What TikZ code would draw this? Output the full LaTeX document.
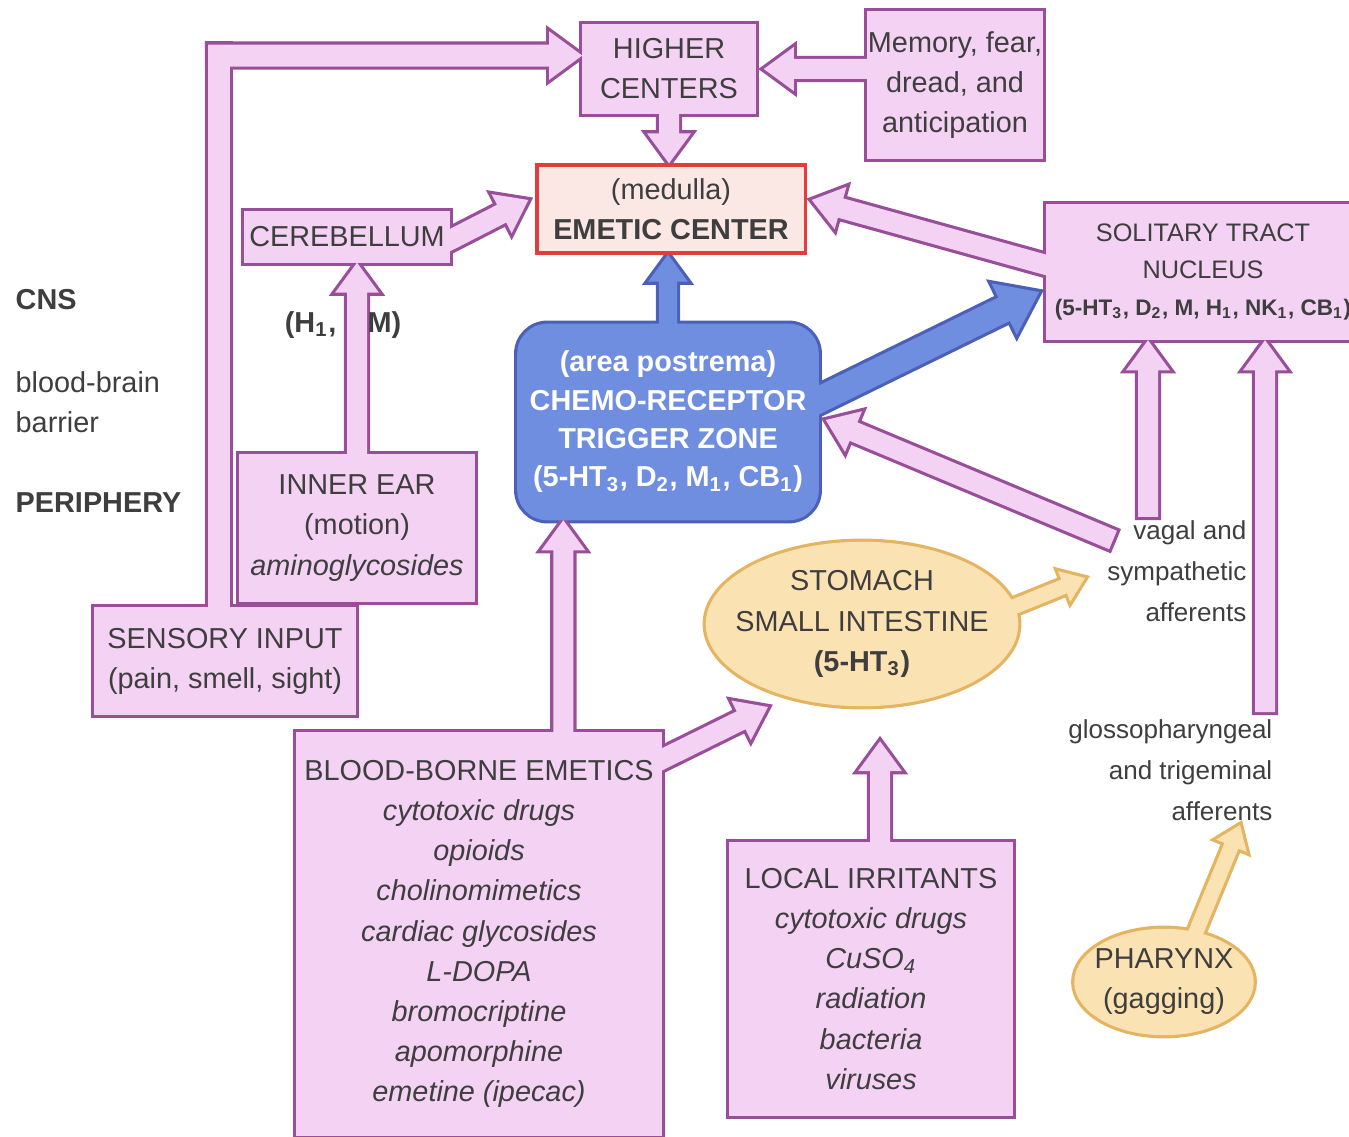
\documentclass[tikz,border=0pt]{standalone}
\usepackage{fontspec}
\setmainfont{Liberation Sans}
\usetikzlibrary{calc,shapes.geometric}
\definecolor{pinkfill}{RGB}{243,210,243}
\definecolor{pinkedge}{RGB}{152,78,152}
\definecolor{bluefill}{RGB}{112,142,224}
\definecolor{blueedge}{RGB}{76,96,184}
\definecolor{orangefill}{RGB}{251,226,178}
\definecolor{orangeedge}{RGB}{228,180,96}
\definecolor{medfill}{RGB}{251,231,228}
\definecolor{mededge}{RGB}{226,60,60}
\definecolor{inktext}{RGB}{62,62,62}
\pgfdeclarelayer{outline}
\pgfdeclarelayer{fillings}
\pgfsetlayers{outline,fillings,main}
\tikzstyle{box}=[rectangle,align=center,inner sep=0pt]
\tikzstyle{oval}=[ellipse,align=center,inner xsep=-0.4cm,inner ysep=-0.1cm]
\tikzstyle{centerbox}=[box,draw=mededge,fill=medfill,line width=0.9pt]
\tikzstyle{sidetext}=[align=left,anchor=west,inner sep=0pt]
\tikzstyle{afftext}=[align=right,anchor=east,inner sep=0pt,font=\fontsize{7.4}{11.6}\selectfont]
\tikzstyle{pinkline}=[draw=pinkedge,line width=1.8pt]
\tikzstyle{pinkbody}=[fill=pinkfill]
\tikzstyle{blueline}=[draw=blueedge,line width=1.8pt]
\tikzstyle{bluebody}=[fill=bluefill]
\tikzstyle{orangeline}=[draw=orangeedge,line width=1.8pt]
\tikzstyle{orangebody}=[fill=orangefill]
% broad arrows: outline on one layer, body on the next one, so touching shapes merge
\newcommand{\fatpath}{($(fa-s)!\faw!90:(fa-e)$) -- ($(fa-b)!\faw!90:(fa-e)$) -- ($(fa-b)!\fahw!90:(fa-e)$) -- (fa-e) -- ($(fa-b)!\fahw!-90:(fa-e)$) -- ($(fa-b)!\faw!-90:(fa-e)$) -- ($(fa-s)!\faw!-90:(fa-e)$) -- cycle}
\newcommand{\barpath}{($(fa-s)!\faw!90:(fa-e)$) -- ($(fa-e)!\faw!-90:(fa-s)$) -- ($(fa-e)!\faw!90:(fa-s)$) -- ($(fa-s)!\faw!-90:(fa-e)$) -- cycle}
\newcommand{\fatarrow}[5][0pt]{%
  \pgfmathsetlengthmacro\faw{#3}%
  \pgfmathsetlengthmacro\fahw{2.2*#3}%
  \pgfmathsetlengthmacro\fah{3*#3}%
  \path (#4) coordinate (fa-0) (#5) coordinate (fa-e);
  \path ($(fa-0)!-#1!(fa-e)$) coordinate (fa-s);
  \path ($(fa-e)!\fah!(fa-s)$) coordinate (fa-b);
  \begin{pgfonlayer}{outline}\path[#2line] \fatpath;\end{pgfonlayer}
  \begin{pgfonlayer}{fillings}\path[#2body] \fatpath;\end{pgfonlayer}
}
\newcommand{\fatbar}[5][0pt]{%
  \pgfmathsetlengthmacro\faw{#3}%
  \path (#4) coordinate (fa-0) (#5) coordinate (fa-e);
  \path ($(fa-0)!-#1!(fa-e)$) coordinate (fa-s);
  \begin{pgfonlayer}{outline}\path[#2line] \barpath;\end{pgfonlayer}
  \begin{pgfonlayer}{fillings}\path[#2body] \barpath;\end{pgfonlayer}
}

\begin{document}
\begin{tikzpicture}[x=0.01cm,y=-0.01cm,
    every node/.style={font=\fontsize{8.2}{11.4}\selectfont,text=inktext}]
   \useasboundingbox (0,0) rectangle (1349,1137);
   \clip (0,0) rectangle (1349,1137);
   % left margin labels
   \node[sidetext] (cns) at (15,300) {\textbf{CNS}};
   \node[sidetext] (bbb) at (15,402) {blood-brain\\barrier};
   \node[sidetext] (peri) at (15,503) {\textbf{PERIPHERY}};
   % the boxes
   \node[box,minimum width=1.72cm,minimum height=0.88cm] (higher) at (669,69) {HIGHER\\CENTERS};
   \node[box,minimum width=1.75cm,minimum height=1.46cm] (memory) at (955,85) {Memory, fear,\\dread, and\\anticipation};
   \node[centerbox,minimum width=2.68cm,minimum height=0.88cm] (emetic) at (671,209) {(medulla)\\\textbf{EMETIC CENTER}};
   \node[box,minimum width=2.05cm,minimum height=0.50cm] (cereb) at (347,237) {CEREBELLUM};
   \node[box,minimum width=3.12cm,minimum height=1.35cm,font=\fontsize{7.2}{10.4}\selectfont] (stn) at (1203,272)
        {SOLITARY TRACT\\NUCLEUS\\\textbf{\fontsize{6.4}{10.4}\selectfont(5-HT\textsubscript{3}, D\textsubscript{2}, M, H\textsubscript{1}, NK\textsubscript{1}, CB\textsubscript{1})}};
   \node[box,minimum width=3.00cm,minimum height=1.95cm,text=white,font=\fontsize{8.2}{10.9}\selectfont\bfseries] (ctz) at (668,422)
        {(area postrema)\\CHEMO-RECEPTOR\\TRIGGER ZONE\\(5-HT\textsubscript{3}, D\textsubscript{2}, M\textsubscript{1}, CB\textsubscript{1})};
   \node[box,minimum width=2.35cm,minimum height=1.47cm] (ear) at (357,528) {INNER EAR\\(motion)\\\textit{aminoglycosides}};
   \node[box,minimum width=2.60cm,minimum height=1.07cm] (sensory) at (225,661) {SENSORY INPUT\\(pain, smell, sight)};
   \node[oval,minimum width=3.11cm,minimum height=1.63cm] (stomach) at (862,624) {STOMACH\\SMALL INTESTINE\\\textbf{(5-HT\textsubscript{3})}};
   \node[box,minimum width=3.65cm,minimum height=4.02cm] (blood) at (479,934)
        {BLOOD-BORNE EMETICS\\\textit{cytotoxic drugs}\\\textit{opioids}\\\textit{cholinomimetics}\\\textit{cardiac glycosides}\\\textit{L-DOPA}\\\textit{bromocriptine}\\\textit{apomorphine}\\\textit{emetine (ipecac)}};
   \node[box,minimum width=2.83cm,minimum height=2.72cm] (local) at (871,979)
        {LOCAL IRRITANTS\\\textit{cytotoxic drugs}\\\textit{CuSO\textsubscript{4}}\\\textit{radiation}\\\textit{bacteria}\\\textit{viruses}};
   \node[oval,minimum width=1.78cm,minimum height=1.05cm] (pharynx) at (1164,982) {PHARYNX\\(gagging)};
   % free labels
   \node[anchor=east,inner sep=0pt] (hlab) at (337,325) {\textbf{(H\textsubscript{1},}};
   \node[anchor=west,inner sep=0pt] (mlab) at (367,325) {\textbf{M)}};
   \node[afftext] (vagal) at (1247,571) {vagal and\\sympathetic\\afferents};
   \node[afftext] (gloss) at (1273,770) {glossopharyngeal\\and trigeminal\\afferents};

   % shapes behind the text
   \foreach \shp in {higher,memory,cereb,ear,sensory,blood,local,stn}
   {
   	\begin{pgfonlayer}{outline}\path[pinkline] (\shp.north west) rectangle (\shp.south east);\end{pgfonlayer}
	\begin{pgfonlayer}{fillings}\path[pinkbody] (\shp.north west) rectangle (\shp.south east);\end{pgfonlayer}
   }
   \begin{pgfonlayer}{outline}\path[blueline,rounded corners=0.3cm] (ctz.north west) rectangle (ctz.south east);\end{pgfonlayer}
   \begin{pgfonlayer}{fillings}\path[bluebody,rounded corners=0.3cm] (ctz.north west) rectangle (ctz.south east);\end{pgfonlayer}
   \foreach \shp in {stomach,pharynx}
   {
   	\begin{pgfonlayer}{outline}\path[orangeline] let \p1=(\shp.center), \p2=(\shp.east), \p3=(\shp.north) in
	    (\p1) ellipse [x radius={\x2-\x1}, y radius={\y3-\y1}];\end{pgfonlayer}
   	\begin{pgfonlayer}{fillings}\path[orangebody] let \p1=(\shp.center), \p2=(\shp.east), \p3=(\shp.north) in
	    (\p1) ellipse [x radius={\x2-\x1}, y radius={\y3-\y1}];\end{pgfonlayer}
   }

   % free ends of the arrows
   \coordinate (hc-in) at ($(higher.north west)!0.35!(higher.south west)$);
   \coordinate (sens-out) at ($(sensory.north)+(-6,0)$);
   \coordinate (bend) at (sens-out |- hc-in);
   \coordinate (vag-in) at (1113,540);
   \coordinate (vag-up) at (1148,517);
   \coordinate (glo-up) at (1265,712);
   \coordinate (st-out) at (1085,578);
   \coordinate (ph-out) at (1240,825);
   \coordinate (bb-up) at ($(blood.north west)!0.73!(blood.north east)$);
   \coordinate (li-up) at ($(local.north)+(9,0)$);

   % pink arrows
   \fatbar[4pt]{pink}{0.11cm}{sens-out}{$(bend)+(0,-11)$}
   \fatarrow{pink}{0.11cm}{$(bend)+(-11,0)$}{hc-in}
   \fatarrow[4pt]{pink}{0.1cm}{memory.west |- higher.east}{$(higher.east)+(8,0)$}
   \fatarrow[4pt]{pink}{0.1cm}{higher.south}{higher.south |- emetic.north}
   \fatarrow[6pt]{pink}{0.1cm}{$(cereb.east)+(0,3)$}{$(emetic.west)+(-7,-9)$}
   \fatarrow[4pt]{pink}{0.1cm}{ear.north}{ear.north |- cereb.south}
   \fatarrow[8pt]{pink}{0.1cm}{$(stn.west)+(0,-7)$}{$(emetic.east)+(5,-9)$}
   \fatarrow{pink}{0.1cm}{vag-in}{$(ctz.east)+(7,-2)$}
   \fatarrow{pink}{0.1cm}{vag-up}{vag-up |- stn.south}
   \fatarrow{pink}{0.1cm}{glo-up}{glo-up |- stn.south}
   \fatarrow[4pt]{pink}{0.1cm}{bb-up}{bb-up |- ctz.south}
   \fatarrow[8pt]{pink}{0.1cm}{$(blood.north east)+(0,27)$}{$(stomach.center)+(-94,83)$}
   \fatarrow[4pt]{pink}{0.1cm}{li-up}{$(li-up)+(0,-101)$}
   % blue arrows
   \fatarrow[4pt]{blue}{0.09cm}{ctz.north}{ctz.north |- emetic.south}
   \fatarrow[10pt]{blue}{0.13cm}{$(ctz.east)+(0,-22)$}{$(stn.west)+(-7,20)$}
   % orange arrows
   \fatarrow[8pt]{orange}{0.075cm}{$(stomach.east)+(-10,-15)$}{st-out}
   \fatarrow[8pt]{orange}{0.075cm}{$(pharynx.north)+(30,8)$}{ph-out}
\end{tikzpicture}
\end{document}
